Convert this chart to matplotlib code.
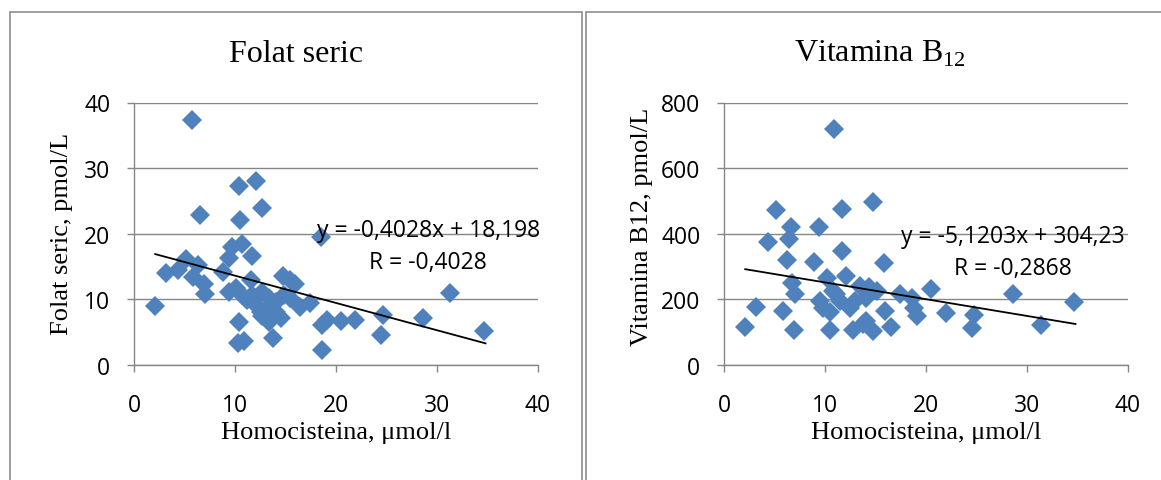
import matplotlib
matplotlib.use("Agg")
import matplotlib.pyplot as plt
from matplotlib.patches import Rectangle

# ---------------- data ----------------
folat_x = [5.7, 10.4, 12.1, 12.7, 6.5, 10.5, 18.5, 10.7, 9.7, 11.7, 9.4, 5.1, 6.3, 4.4, 3.2,
           5.8, 6.9, 7.0, 8.8, 11.6, 14.8, 15.9, 9.4, 10.1, 10.7, 11.2, 12.1, 12.7, 13.4, 14.1,
           14.9, 16.4, 17.4, 12.7, 13.4, 14.6, 10.4, 10.3, 10.9, 13.8, 2.1, 18.6, 19.1, 18.6,
           20.5, 21.9, 24.7, 24.5, 28.6, 31.3, 34.7, 13.2, 14.1, 12.6, 15.4, 11.7, 15.4]
folat_y = [37.3, 27.3, 28.0, 24.0, 22.9, 22.1, 19.5, 18.4, 18.0, 16.6, 16.3, 16.1, 15.2, 14.5, 14.0,
           13.4, 12.4, 10.8, 14.2, 12.9, 13.6, 12.4, 11.2, 11.7, 10.7, 9.9, 9.1, 11.2, 10.2, 9.6,
           10.7, 8.9, 9.5, 7.4, 6.6, 7.1, 6.6, 3.3, 3.7, 4.1, 9.0, 6.1, 6.9, 2.3,
           6.7, 6.9, 7.6, 4.6, 7.1, 11.0, 5.2, 8.6, 8.1, 8.1, 10.2, 10.7, 13.0]
folat_trend_x = [2.1, 34.8]
folat_trend_y = [16.9, 3.3]

b12_x = [10.9, 14.8, 5.1, 11.7, 6.6, 9.4, 6.4, 4.4, 11.7, 6.2, 8.9, 15.8, 10.2, 12.1, 6.7, 7.0,
         10.8, 13.5, 14.4, 15.1, 17.4, 18.6, 20.5, 28.6, 34.7, 3.2, 5.8, 9.5, 9.8, 10.5, 12.5,
         13.0, 14.1, 15.9, 18.8, 19.1, 22.0, 24.8, 24.6, 31.4, 2.1, 6.9, 10.5, 12.8, 14.1, 14.8,
         16.5, 13.8, 11.1, 11.5]
b12_y = [718, 496, 473, 476, 422, 422, 385, 374, 346, 321, 314, 311, 265, 270, 250, 215,
         225, 240, 237, 225, 217, 203, 233, 217, 192, 176, 164, 194, 174, 162, 174,
         194, 205, 164, 174, 149, 159, 152, 113, 122, 115, 108, 108, 108, 134, 105,
         115, 124, 215, 194]
b12_trend_x = [2.1, 34.8]
b12_trend_y = [292, 125]

x_ticks = [0, 10, 20, 30, 40]
folat_ticks = [0, 10, 20, 30, 40]
b12_ticks = [0, 200, 400, 600, 800]

titles = ["Folat seric", "Vitamina B$_{\\mathregular{12}}$"]
ylabels = ["Folat seric, pmol/L", "Vitamina B12, pmol/L"]
xlabel = "Homocisteina, μmol/l"
eq_texts = [("y = -0,4028x + 18,198", "R = -0,4028"),
            ("y = -5,1203x + 304,23", "R = -0,2868")]

# ---------------- style ----------------
W, H = 1161, 481
DPI = 100
plt.rcParams['mathtext.fontset'] = 'custom'
plt.rcParams['mathtext.rm'] = 'Liberation Serif'
SERIF = 'Liberation Serif'
SANS = 'Open Sans'
GRID = '#868686'
MARK = '#4F81BD'

fig = plt.figure(figsize=(W / DPI, H / DPI), dpi=DPI)


def fx(px):
    return px / W


def fy(py):
    return 1 - py / H


# frames
for x0, x1 in [(10, 582), (586, 1176)]:
    fig.patches.append(Rectangle((fx(x0), fy(500)), fx(x1) - fx(x0), fy(13) - fy(500),
                                 transform=fig.transFigure, fill=False,
                                 edgecolor='#8c8c8c', lw=1.2, zorder=0))

ax_left_px = [134, 724]
ax_w_px = 404
ax_top, ax_bot = 103.5, 366

datasets = [
    (folat_x, folat_y, folat_trend_x, folat_trend_y, folat_ticks, 40),
    (b12_x, b12_y, b12_trend_x, b12_trend_y, b12_ticks, 800),
]
title_cx = [296, 880]
ylab_pos = [(-0.178, 0.503), (-0.203, 0.53)]
eq_pos = [(0.728, 0.515, 0.392), (0.715, 0.49, 0.368)]

for i, (xs, ys, tx, ty, yt, ymax) in enumerate(datasets):
    l = ax_left_px[i]
    ax = fig.add_axes([fx(l), fy(ax_bot), ax_w_px / W, (ax_bot - ax_top) / H])
    ax.set_xlim(0, 40)
    ax.set_ylim(0, ymax)
    ax.set_xticks(x_ticks)
    ax.set_yticks(yt)
    for s in ['top', 'right']:
        ax.spines[s].set_visible(False)
    for s in ['left', 'bottom']:
        ax.spines[s].set_color(GRID)
        ax.spines[s].set_linewidth(1.0)
    ax.yaxis.grid(True, color=GRID, lw=1.0)
    ax.set_axisbelow(True)
    ax.tick_params(axis='both', direction='out', length=5, width=1.0, color=GRID,
                   labelsize=16.5, labelcolor='black')
    ax.tick_params(axis='y', pad=12)
    ax.tick_params(axis='x', pad=15)
    for lab in ax.get_xticklabels() + ax.get_yticklabels():
        lab.set_fontfamily(SANS)

    ax.plot(xs, ys, linestyle='none', marker='D', ms=9.8, color=MARK,
            markeredgewidth=0, zorder=3, clip_on=False)
    ax.plot(tx, ty, color='black', lw=1.3, zorder=4)

    ax.set_ylabel(ylabels[i], fontfamily=SERIF, fontsize=19)
    ax.yaxis.set_label_coords(*ylab_pos[i])
    ax.yaxis.label.set_va('center')
    ax.set_xlabel(xlabel, fontfamily=SERIF, fontsize=19)
    ax.xaxis.set_label_coords(0.5, -0.255)
    ax.xaxis.label.set_va('center')

    ex, ey1, ey2 = eq_pos[i]
    ax.text(ex, ey1, eq_texts[i][0], transform=ax.transAxes, ha='center', va='center',
            fontfamily=SANS, fontsize=16.5, zorder=5)
    ax.text(ex, ey2, eq_texts[i][1], transform=ax.transAxes, ha='center', va='center',
            fontfamily=SANS, fontsize=16.5, zorder=5)

    fig.text(fx(title_cx[i]), fy(62), titles[i], ha='center', va='baseline',
             fontfamily=SERIF, fontsize=23)

fig.savefig('out.png', dpi=DPI)
